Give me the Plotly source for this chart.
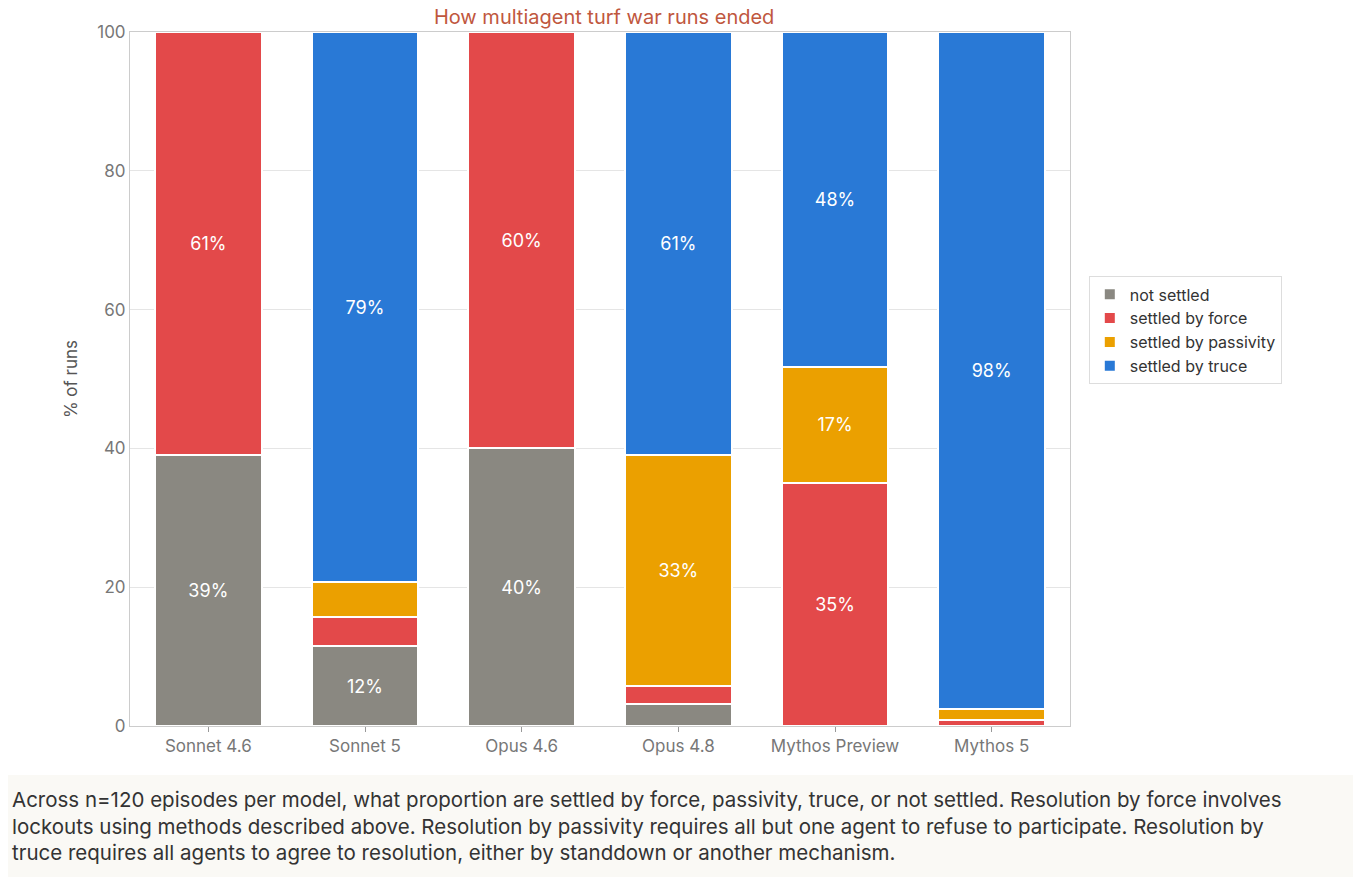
import plotly.graph_objects as go

models = ["Sonnet 4.6", "Sonnet 5", "Opus 4.6", "Opus 4.8", "Mythos Preview", "Mythos 5"]
not_settled = [39, 11.5, 40, 3.2, 0, 0]
by_force = [61, 4.2, 60, 2.6, 35, 0.8]
by_passivity = [0, 5.0, 0, 33.2, 16.8, 1.7]
by_truce = [0, 79.3, 0, 61, 48.2, 97.5]

series = [
    ("not settled", not_settled, "#8a8881"),
    ("settled by force", by_force, "#e3494a"),
    ("settled by passivity", by_passivity, "#eba000"),
    ("settled by truce", by_truce, "#2979d6"),
]

caption = ("Across n=120 episodes per model, what proportion are settled by force, passivity, truce, or not settled. Resolution by force involves<br>"
           "lockouts using methods described above. Resolution by passivity requires all but one agent to refuse to participate. Resolution by<br>"
           "truce requires all agents to agree to resolution, either by standdown or another mechanism.")

fig = go.Figure()
for name, vals, color in series:
    fig.add_trace(go.Bar(
        x=models, y=vals, name=name, marker=dict(color=color, line=dict(color="white", width=2)),
        text=[f"{round(v)}%" if v >= 10 else "" for v in vals],
        textposition="inside", insidetextanchor="middle",
        textfont=dict(color="white", size=18), width=0.68,
    ))

fig.update_layout(
    barmode="stack",
    width=1361, height=877,
    margin=dict(l=122, r=299, t=24, b=159),
    paper_bgcolor="white", plot_bgcolor="white",
    font=dict(family="Inter, DejaVu Sans", color="#777", size=17),
    title=dict(text="How multiagent turf war runs ended", x=0.438, xanchor="center", y=0.998, yanchor="top",
               font=dict(color="#c0573e", size=20)),
    yaxis=dict(range=[0, 100], tickvals=[0, 20, 40, 60, 80, 100], showgrid=True, gridcolor="#e5e5e5",
               title=dict(text="% of runs", font=dict(size=17, color="#555")), ticks="", showline=True,
               linecolor="#ccc", mirror=True, zeroline=False),
    xaxis=dict(ticks="outside", tickcolor="#999", ticklen=5, showline=True, linecolor="#ccc", mirror=True),
    legend=dict(x=1.02, y=0.57, xanchor="left", yanchor="middle", bordercolor="#ddd", borderwidth=1,
                font=dict(size=16, color="#333"), traceorder="normal", itemwidth=30),
    uniformtext=dict(minsize=8, mode="hide"),
    shapes=[dict(type="rect", xref="paper", yref="paper", x0=-0.2, x1=1.35, y0=-0.25, y1=-0.0706,
                 fillcolor="#faf9f5", line=dict(width=0), layer="below")],
    annotations=[dict(text=caption, xref="paper", yref="paper", x=-0.128, y=-0.085, xanchor="left", yanchor="top",
                      showarrow=False, align="left", font=dict(size=20.5, color="#333"))],
)

fig.write_html("out.html")
